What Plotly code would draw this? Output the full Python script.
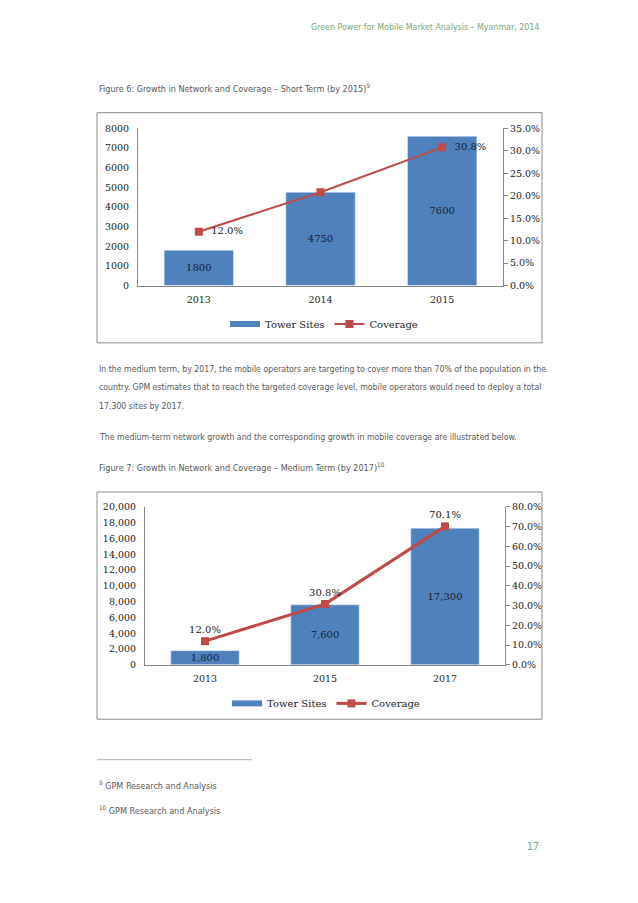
import plotly.graph_objects as go

# ---- data ----
years_short = ["2013", "2014", "2015"]
towers_short = [1800, 4750, 7600]
coverage_short = [0.12, 0.208, 0.308]

years_medium = ["2013", "2015", "2017"]
towers_medium = [1800, 7600, 17300]
coverage_medium = [0.12, 0.308, 0.701]

header_text = "Green Power for Mobile Market Analysis – Myanmar, 2014"
fig6_title = "Figure 6: Growth in Network and Coverage – Short Term (by 2015)<sup>9</sup>"
fig7_title = "Figure 7: Growth in Network and Coverage – Medium Term (by 2017)<sup>10</sup>"
para_lines = [
    "In the medium term, by 2017, the mobile operators are targeting to cover more than 70% of the population in the",
    "country. GPM estimates that to reach the targeted coverage level, mobile operators would need to deploy a total",
    "17,300 sites by 2017.",
]
para2 = "The medium-term network growth and the corresponding growth in mobile coverage are illustrated below."
footnotes = ["<sup>9</sup> GPM Research and Analysis", "<sup>10</sup> GPM Research and Analysis"]
page_number = "17"

W, H = 638, 903
BAR = "#4f81bd"
LINE = "#be4b48"
AX = "#868686"
SERIF = "DejaVu Serif, Liberation Serif, serif"
NARROW = "Liberation Sans Narrow, DejaVu Sans Condensed, Arial Narrow, sans-serif"
GREY_TXT = "#595959"
GREEN = "#77a877"

def px_x(x):
    return x / W

def px_y(y):
    return 1 - y / H

fig = go.Figure()

# chart 1
fig.add_trace(go.Bar(x=years_short, y=towers_short, name="Tower Sites", marker_color=BAR,
                     texttemplate="%{y:d}", textposition="inside", insidetextanchor="middle",
                     constraintext="none",
                     textangle=0, textfont=dict(family=SERIF, size=10, color="#1b1b2b"),
                     xaxis="x", yaxis="y", showlegend=False, width=0.57))
fig.add_trace(go.Scatter(x=[None], y=[None], name="Tower Sites", mode="lines",
                         line=dict(color=BAR, width=6), xaxis="x", yaxis="y", legend="legend"))
fig.add_trace(go.Scatter(x=years_short, y=coverage_short, name="Coverage", mode="lines+markers+text",
                         line=dict(color=LINE, width=2), marker=dict(symbol="square", size=8, color=LINE),
                         texttemplate=["  %{y:.1%}", "", "  %{y:.1%}"], textposition="middle right",
                         textfont=dict(family=SERIF, size=10, color="#1b1b1b"), cliponaxis=False,
                         xaxis="x", yaxis="y2", legend="legend"))
# chart 2
fig.add_trace(go.Bar(x=years_medium, y=towers_medium, name="Tower Sites", marker_color=BAR,
                     texttemplate="%{y:,}", textposition="inside", insidetextanchor="middle",
                     constraintext="none",
                     textangle=0, textfont=dict(family=SERIF, size=10, color="#1b1b2b"),
                     xaxis="x2", yaxis="y3", showlegend=False, width=0.57))
fig.add_trace(go.Scatter(x=[None], y=[None], name="Tower Sites", mode="lines",
                         line=dict(color=BAR, width=6), xaxis="x2", yaxis="y3", legend="legend2"))
fig.add_trace(go.Scatter(x=years_medium, y=coverage_medium, name="Coverage", mode="lines+markers+text",
                         line=dict(color=LINE, width=3), marker=dict(symbol="square", size=8, color=LINE),
                         texttemplate="%{y:.1%}", textposition="top center",
                         textfont=dict(family=SERIF, size=10, color="#1b1b1b"), cliponaxis=False,
                         xaxis="x2", yaxis="y4", legend="legend2"))

tickf = dict(family=SERIF, size=9.5, color="#1b1b1b")
left_y = dict(showgrid=False, zeroline=False, showline=True, linecolor=AX, linewidth=1,
              ticks="", tickfont=tickf, ticklabelstandoff=6)
right_y = dict(showgrid=False, zeroline=False, showline=True, linecolor=AX, linewidth=1,
               ticks="outside", ticklen=4, tickcolor=AX, tickfont=tickf)
common_x = dict(type="category", showgrid=False, showline=True, linecolor=AX, linewidth=1,
                ticks="", tickfont=tickf, ticklabelstandoff=5)

legend_font = dict(family=SERIF, size=10, color="#1b1b1b")
fig.update_layout(
    width=W, height=H, margin=dict(l=0, r=0, t=0, b=0),
    paper_bgcolor="white", plot_bgcolor="white",
    bargap=0.43,
    xaxis=dict(domain=[px_x(138), px_x(503)], anchor="y", **common_x),
    yaxis=dict(domain=[px_y(283), px_y(124)], anchor="x", range=[0, 8000], dtick=1000,
               tickformat="d", **left_y),
    yaxis2=dict(overlaying="y", side="right", anchor="x", range=[0, 0.35], dtick=0.05,
                tickformat=".1%", **right_y),
    xaxis2=dict(domain=[px_x(145), px_x(505)], anchor="y3", **common_x),
    yaxis3=dict(domain=[px_y(667), px_y(507)], anchor="x2", range=[0, 20000], dtick=2000,
                tickformat=",", **left_y),
    yaxis4=dict(overlaying="y3", side="right", anchor="x2", range=[0, 0.8], dtick=0.1,
                tickformat=".1%", **right_y),
    legend=dict(orientation="h", x=px_x(324), xanchor="center", y=px_y(322), yanchor="middle",
                font=legend_font, bgcolor="rgba(0,0,0,0)", itemwidth=30, tracegroupgap=0),
    legend2=dict(orientation="h", x=px_x(326), xanchor="center", y=px_y(706), yanchor="middle",
                 font=legend_font, bgcolor="rgba(0,0,0,0)", itemwidth=30, tracegroupgap=0),
    showlegend=True,
)

shapes = [
    dict(type="rect", xref="paper", yref="paper", x0=px_x(97), x1=px_x(542), y0=px_y(341), y1=px_y(108),
         line=dict(color="#8c8c8c", width=1)),
    dict(type="rect", xref="paper", yref="paper", x0=px_x(97), x1=px_x(542), y0=px_y(722), y1=px_y(492),
         line=dict(color="#8c8c8c", width=1)),
    dict(type="line", xref="paper", yref="paper", x0=px_x(97), x1=px_x(252), y0=px_y(763), y1=px_y(763),
         line=dict(color="#b0b0b0", width=1)),
]
fig.update_layout(shapes=shapes)

anns = []
def txt(text, x, y, size=10, color=GREY_TXT, family=NARROW, xanchor="left"):
    anns.append(dict(text=text, x=px_x(x), y=px_y(y), xref="paper", yref="paper", xanchor=xanchor,
                     yanchor="middle", showarrow=False, font=dict(family=family, size=size, color=color)))

txt(header_text, 541, 21, size=8.8, color=GREEN, xanchor="right")
txt(fig6_title, 97, 83, size=9)
for i, line in enumerate(para_lines):
    txt(line, 97, 367 + i * 19, size=8.7)
txt(para2, 97, 436, size=8.7)
txt(fig7_title, 97, 467, size=9)
txt(footnotes[0], 97, 789, size=9)
txt(footnotes[1], 97, 814, size=9)
txt(page_number, 541, 850, size=10.5, color=GREEN, xanchor="right")
fig.update_layout(annotations=anns)

fig.write_html("out.html", config={"displayModeBar": False},
               post_script="document.body.style.margin='0';document.body.style.padding='0';")
